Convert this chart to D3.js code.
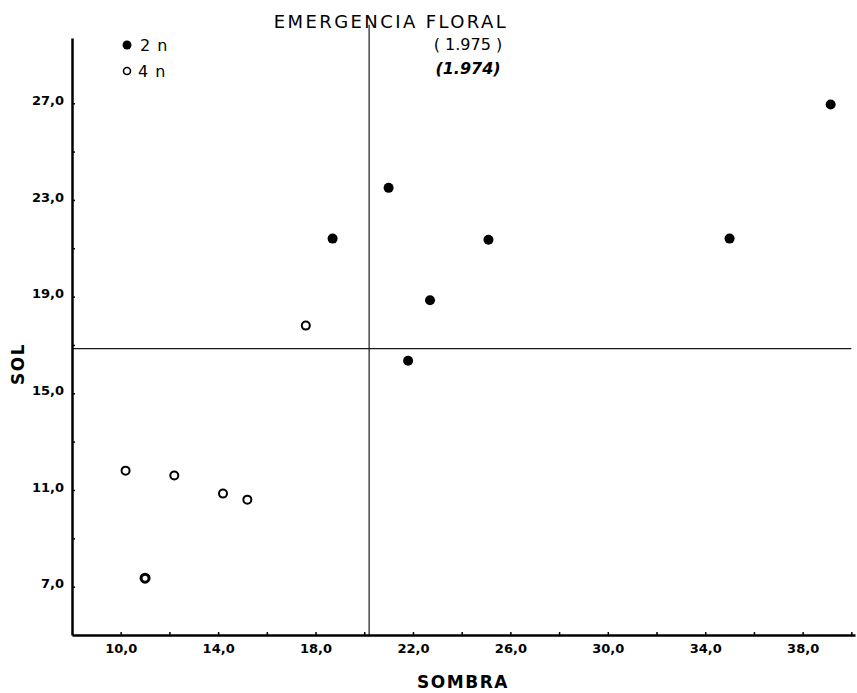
<!DOCTYPE html>
<html>
<head>
<meta charset="utf-8">
<script src="https://cdn.jsdelivr.net/npm/d3@7"></script>
<style>
  html, body { margin: 0; padding: 0; background: #fff; }
  svg { display: block; }
</style>
</head>
<body>
<svg id="chart" width="857" height="693"></svg>
<script>
// ---- data ----
const seriesNames = ["2 n", "4 n"];
const x2n = [18.7, 21.0, 21.8, 22.7, 25.1, 35.0, 39.15];
const y2n = [21.4, 23.5, 16.35, 18.85, 21.35, 21.4, 26.95];
const x4n = [10.2, 11.0, 12.2, 14.2, 15.2, 17.6];
const y4n = [11.8, 7.35, 11.6, 10.85, 10.6, 17.8];
const refX = 20.2;
const refY = 16.85;
const xTicks = [10, 12, 14, 16, 18, 20, 22, 24, 26, 28, 30, 32, 34, 36, 38, 40];
const xTickLabels = [10, 14, 18, 22, 26, 30, 34, 38];
const yTicks = [7, 9, 11, 13, 15, 17, 19, 21, 23, 25, 27];
const yTickLabels = [7, 11, 15, 19, 23, 27];
const titleText = "EMERGENCIA FLORAL";
const subtitle1 = "( 1.975 )";
const subtitle2 = "(1.974)";
const xTitle = "SOMBRA";
const yTitle = "SOL";

// ---- drawing ----
const svg = d3.select("#chart");
const x = d3.scaleLinear().domain([8, 40.15]).range([72, 855]);
const y = d3.scaleLinear().domain([5, 29.7]).range([635, 38]);
const loc = d3.formatLocale({decimal: ",", thousands: ".", grouping: [3], currency: ["", ""]});
const fmt = loc.format(".1f");

const tickFont = "'DejaVu Sans', sans-serif";

// reference lines
svg.append("line")
  .attr("x1", x(refX)).attr("x2", x(refX))
  .attr("y1", y(30.25)).attr("y2", y(5))
  .attr("stroke", "#1a1a1a").attr("stroke-width", 1.2);
svg.append("line")
  .attr("x1", x(8)).attr("x2", x(40))
  .attr("y1", y(refY)).attr("y2", y(refY))
  .attr("stroke", "#1a1a1a").attr("stroke-width", 1.2);

// x axis
const xAxis = d3.axisBottom(x)
  .tickValues(xTicks)
  .tickSizeInner(-3).tickSizeOuter(0).tickPadding(9)
  .tickFormat(d => xTickLabels.includes(d) ? fmt(d) : "");
const gx = svg.append("g").attr("transform", `translate(0,${y(5)})`).call(xAxis);
gx.select(".domain").attr("stroke", "#000").attr("stroke-width", 2.5);
gx.selectAll(".tick line").attr("stroke", "#000").attr("stroke-width", 1.5);
gx.selectAll(".tick text").attr("font-family", tickFont).attr("font-weight", "bold")
  .attr("font-size", 13).attr("fill", "#000");

// y axis
const yAxis = d3.axisLeft(y)
  .tickValues(yTicks)
  .tickSizeInner(-3).tickSizeOuter(0).tickPadding(8)
  .tickFormat(d => yTickLabels.includes(d) ? fmt(d) : "");
const gy = svg.append("g").attr("transform", `translate(${x(8)},0)`).call(yAxis);
gy.select(".domain").attr("stroke", "#000").attr("stroke-width", 2.5);
gy.selectAll(".tick line").attr("stroke", "#000").attr("stroke-width", 1.5);
gy.selectAll(".tick text").attr("font-family", tickFont).attr("font-weight", "bold")
  .attr("font-size", 13).attr("fill", "#000").attr("dy", "0.1em");

// points
const pts2 = x2n.map((v, i) => ({x: v, y: y2n[i]}));
const pts4 = x4n.map((v, i) => ({x: v, y: y4n[i]}));
svg.append("g").selectAll("circle").data(pts2).join("circle")
  .attr("cx", d => x(d.x)).attr("cy", d => y(d.y))
  .attr("r", 5).attr("fill", "#000");
svg.append("g").selectAll("circle").data(pts4).join("circle")
  .attr("cx", d => x(d.x)).attr("cy", d => y(d.y))
  .attr("r", 4).attr("fill", "none").attr("stroke", "#000")
  .attr("stroke-width", (d, i) => i === 1 ? 3 : 2);

// title & subtitles
svg.append("text").attr("x", 391).attr("y", 28).attr("text-anchor", "middle")
  .attr("font-family", tickFont).attr("font-size", 18).attr("letter-spacing", 2.4)
  .attr("fill", "#000").text(titleText);
svg.append("text").attr("x", 468).attr("y", 50).attr("text-anchor", "middle")
  .attr("font-family", tickFont).attr("font-size", 16)
  .attr("fill", "#000").text(subtitle1);
svg.append("text").attr("x", 468).attr("y", 74).attr("text-anchor", "middle")
  .attr("font-family", tickFont).attr("font-size", 16).attr("font-weight", "bold")
  .attr("font-style", "italic").attr("fill", "#000").text(subtitle2);

// legend
const leg = svg.append("g");
leg.append("circle").attr("cx", 127).attr("cy", 45).attr("r", 4.5).attr("fill", "#000");
leg.append("text").attr("x", 140).attr("y", 51).attr("font-family", tickFont)
  .attr("font-size", 16).attr("fill", "#000").attr("letter-spacing", 1).text(seriesNames[0]);
leg.append("circle").attr("cx", 127).attr("cy", 71).attr("r", 3.5).attr("fill", "none")
  .attr("stroke", "#000").attr("stroke-width", 1.6);
leg.append("text").attr("x", 138).attr("y", 77).attr("font-family", tickFont)
  .attr("font-size", 16).attr("fill", "#000").attr("letter-spacing", 1).text(seriesNames[1]);

// axis titles
svg.append("text").attr("x", 463).attr("y", 688).attr("text-anchor", "middle")
  .attr("font-family", tickFont).attr("font-weight", "bold").attr("font-size", 17)
  .attr("letter-spacing", 1.5).attr("fill", "#000").text(xTitle);
svg.append("text").attr("transform", "translate(24,364) rotate(-90)").attr("text-anchor", "middle")
  .attr("font-family", tickFont).attr("font-weight", "bold").attr("font-size", 17)
  .attr("letter-spacing", 1.5).attr("fill", "#000").text(yTitle);
</script>
</body>
</html>
